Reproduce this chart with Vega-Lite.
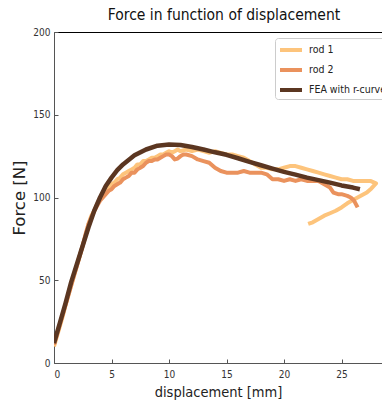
{
  "$schema": "https://vega.github.io/schema/vega-lite/v6.json",
  "autosize": {"type": "none"},
  "padding": {"left": 54, "top": 32, "right": 0, "bottom": 38},
  "width": 328,
  "height": 331,
  "background": "white",
  "title": {"text": "Force in function of displacement", "font": "DejaVu Sans Condensed", "fontSize": 15.5, "fontWeight": "normal", "color": "#111", "dx": 6, "offset": 4},
  "config": {
    "view": {"stroke": null},
    "axis": {"labelFont": "DejaVu Sans Condensed", "labelFontSize": 10, "labelColor": "#333", "titleFont": "DejaVu Sans Condensed", "titleFontSize": 14, "titleFontWeight": "normal", "titleColor": "#222", "grid": false, "domainColor": "#555", "tickColor": "#555"}
  },
  "data": {"values": [
    {"s":"rod 1","i":0,"x":0,"f":10},{"s":"rod 1","i":1,"x":0.25,"f":16},{"s":"rod 1","i":2,"x":0.5,"f":22},{"s":"rod 1","i":3,"x":0.75,"f":28},{"s":"rod 1","i":4,"x":1,"f":35},{"s":"rod 1","i":5,"x":1.25,"f":41},{"s":"rod 1","i":6,"x":1.5,"f":47},{"s":"rod 1","i":7,"x":1.75,"f":53},{"s":"rod 1","i":8,"x":2,"f":59},{"s":"rod 1","i":9,"x":2.25,"f":65},{"s":"rod 1","i":10,"x":2.5,"f":71},{"s":"rod 1","i":11,"x":2.75,"f":77},{"s":"rod 1","i":12,"x":3,"f":84},{"s":"rod 1","i":13,"x":3.25,"f":89},{"s":"rod 1","i":14,"x":3.5,"f":92},{"s":"rod 1","i":15,"x":3.75,"f":96},{"s":"rod 1","i":16,"x":4,"f":99},{"s":"rod 1","i":17,"x":4.25,"f":101},{"s":"rod 1","i":18,"x":4.5,"f":104},{"s":"rod 1","i":19,"x":4.75,"f":106},{"s":"rod 1","i":20,"x":5,"f":108},{"s":"rod 1","i":21,"x":5.25,"f":109},{"s":"rod 1","i":22,"x":5.5,"f":111},{"s":"rod 1","i":23,"x":5.75,"f":112},{"s":"rod 1","i":24,"x":6,"f":114},{"s":"rod 1","i":25,"x":6.25,"f":115},{"s":"rod 1","i":26,"x":6.5,"f":116},{"s":"rod 1","i":27,"x":6.75,"f":117},{"s":"rod 1","i":28,"x":7,"f":118},{"s":"rod 1","i":29,"x":7.25,"f":120},{"s":"rod 1","i":30,"x":7.5,"f":120},{"s":"rod 1","i":31,"x":7.75,"f":122},{"s":"rod 1","i":32,"x":8,"f":122},{"s":"rod 1","i":33,"x":8.25,"f":123},{"s":"rod 1","i":34,"x":8.5,"f":124},{"s":"rod 1","i":35,"x":8.75,"f":124},{"s":"rod 1","i":36,"x":9,"f":125},{"s":"rod 1","i":37,"x":9.25,"f":126},{"s":"rod 1","i":38,"x":9.5,"f":126},{"s":"rod 1","i":39,"x":9.75,"f":127},{"s":"rod 1","i":40,"x":10,"f":128},{"s":"rod 1","i":41,"x":10.25,"f":127},{"s":"rod 1","i":42,"x":10.5,"f":128},{"s":"rod 1","i":43,"x":10.75,"f":129},{"s":"rod 1","i":44,"x":11,"f":128},{"s":"rod 1","i":45,"x":11.5,"f":129},{"s":"rod 1","i":46,"x":12,"f":128},{"s":"rod 1","i":47,"x":12.5,"f":129},{"s":"rod 1","i":48,"x":13,"f":128},{"s":"rod 1","i":49,"x":13.5,"f":127},{"s":"rod 1","i":50,"x":14,"f":128},{"s":"rod 1","i":51,"x":14.5,"f":127},{"s":"rod 1","i":52,"x":15,"f":126},{"s":"rod 1","i":53,"x":15.5,"f":126},{"s":"rod 1","i":54,"x":16,"f":125},{"s":"rod 1","i":55,"x":16.5,"f":124},{"s":"rod 1","i":56,"x":17,"f":122},{"s":"rod 1","i":57,"x":17.5,"f":120},{"s":"rod 1","i":58,"x":18,"f":118},{"s":"rod 1","i":59,"x":18.5,"f":118},{"s":"rod 1","i":60,"x":19,"f":117},{"s":"rod 1","i":61,"x":19.5,"f":117},{"s":"rod 1","i":62,"x":20,"f":118},{"s":"rod 1","i":63,"x":20.5,"f":119},{"s":"rod 1","i":64,"x":21,"f":119},{"s":"rod 1","i":65,"x":21.5,"f":118},{"s":"rod 1","i":66,"x":22,"f":117},{"s":"rod 1","i":67,"x":22.5,"f":116},{"s":"rod 1","i":68,"x":23,"f":115},{"s":"rod 1","i":69,"x":23.5,"f":114},{"s":"rod 1","i":70,"x":24,"f":113},{"s":"rod 1","i":71,"x":24.5,"f":112},{"s":"rod 1","i":72,"x":25,"f":111},{"s":"rod 1","i":73,"x":25.5,"f":111},{"s":"rod 1","i":74,"x":26,"f":110},{"s":"rod 1","i":75,"x":26.5,"f":110},{"s":"rod 1","i":76,"x":27,"f":110},{"s":"rod 1","i":77,"x":27.5,"f":110},{"s":"rod 1","i":78,"x":28,"f":108.5},{"s":"rod 1","i":79,"x":27.6,"f":105.5},{"s":"rod 1","i":80,"x":27.2,"f":103},{"s":"rod 1","i":81,"x":26.8,"f":101.5},{"s":"rod 1","i":82,"x":26.4,"f":100},{"s":"rod 1","i":83,"x":26,"f":98.5},{"s":"rod 1","i":84,"x":25.5,"f":96.5},{"s":"rod 1","i":85,"x":25,"f":94},{"s":"rod 1","i":86,"x":24.5,"f":92},{"s":"rod 1","i":87,"x":24,"f":90.5},{"s":"rod 1","i":88,"x":23.5,"f":89},{"s":"rod 1","i":89,"x":23,"f":87},{"s":"rod 1","i":90,"x":22.5,"f":85},{"s":"rod 1","i":91,"x":22.1,"f":84},
    {"s":"rod 2","i":0,"x":0,"f":11},{"s":"rod 2","i":1,"x":0.25,"f":17},{"s":"rod 2","i":2,"x":0.5,"f":23},{"s":"rod 2","i":3,"x":0.75,"f":29},{"s":"rod 2","i":4,"x":1,"f":35},{"s":"rod 2","i":5,"x":1.25,"f":41},{"s":"rod 2","i":6,"x":1.5,"f":47},{"s":"rod 2","i":7,"x":1.75,"f":53},{"s":"rod 2","i":8,"x":2,"f":59},{"s":"rod 2","i":9,"x":2.25,"f":65},{"s":"rod 2","i":10,"x":2.5,"f":71},{"s":"rod 2","i":11,"x":2.75,"f":78},{"s":"rod 2","i":12,"x":3,"f":84},{"s":"rod 2","i":13,"x":3.25,"f":88},{"s":"rod 2","i":14,"x":3.5,"f":92},{"s":"rod 2","i":15,"x":3.75,"f":95},{"s":"rod 2","i":16,"x":4,"f":98},{"s":"rod 2","i":17,"x":4.25,"f":100},{"s":"rod 2","i":18,"x":4.5,"f":102},{"s":"rod 2","i":19,"x":4.75,"f":104},{"s":"rod 2","i":20,"x":5,"f":105},{"s":"rod 2","i":21,"x":5.25,"f":107},{"s":"rod 2","i":22,"x":5.5,"f":108},{"s":"rod 2","i":23,"x":5.75,"f":109},{"s":"rod 2","i":24,"x":6,"f":111},{"s":"rod 2","i":25,"x":6.25,"f":112},{"s":"rod 2","i":26,"x":6.5,"f":113},{"s":"rod 2","i":27,"x":6.75,"f":115},{"s":"rod 2","i":28,"x":7,"f":115},{"s":"rod 2","i":29,"x":7.25,"f":117},{"s":"rod 2","i":30,"x":7.5,"f":118},{"s":"rod 2","i":31,"x":7.75,"f":119},{"s":"rod 2","i":32,"x":8,"f":121},{"s":"rod 2","i":33,"x":8.25,"f":122},{"s":"rod 2","i":34,"x":8.5,"f":122},{"s":"rod 2","i":35,"x":8.75,"f":123},{"s":"rod 2","i":36,"x":9,"f":123},{"s":"rod 2","i":37,"x":9.25,"f":124},{"s":"rod 2","i":38,"x":9.5,"f":125},{"s":"rod 2","i":39,"x":9.75,"f":126},{"s":"rod 2","i":40,"x":10,"f":126},{"s":"rod 2","i":41,"x":10.25,"f":125},{"s":"rod 2","i":42,"x":10.5,"f":123},{"s":"rod 2","i":43,"x":10.75,"f":123.5},{"s":"rod 2","i":44,"x":11,"f":125},{"s":"rod 2","i":45,"x":11.25,"f":126},{"s":"rod 2","i":46,"x":11.5,"f":126},{"s":"rod 2","i":47,"x":12,"f":125},{"s":"rod 2","i":48,"x":12.5,"f":123},{"s":"rod 2","i":49,"x":13,"f":122},{"s":"rod 2","i":50,"x":13.5,"f":121},{"s":"rod 2","i":51,"x":14,"f":118},{"s":"rod 2","i":52,"x":14.5,"f":116},{"s":"rod 2","i":53,"x":15,"f":115},{"s":"rod 2","i":54,"x":15.5,"f":115},{"s":"rod 2","i":55,"x":16,"f":115},{"s":"rod 2","i":56,"x":16.5,"f":116},{"s":"rod 2","i":57,"x":17,"f":115},{"s":"rod 2","i":58,"x":17.5,"f":115},{"s":"rod 2","i":59,"x":18,"f":115},{"s":"rod 2","i":60,"x":18.5,"f":114},{"s":"rod 2","i":61,"x":19,"f":111},{"s":"rod 2","i":62,"x":19.5,"f":111},{"s":"rod 2","i":63,"x":20,"f":110},{"s":"rod 2","i":64,"x":20.5,"f":111},{"s":"rod 2","i":65,"x":21,"f":110},{"s":"rod 2","i":66,"x":21.5,"f":111},{"s":"rod 2","i":67,"x":22,"f":110},{"s":"rod 2","i":68,"x":22.5,"f":110},{"s":"rod 2","i":69,"x":23,"f":110},{"s":"rod 2","i":70,"x":23.5,"f":108},{"s":"rod 2","i":71,"x":24,"f":106},{"s":"rod 2","i":72,"x":24.3,"f":103},{"s":"rod 2","i":73,"x":24.7,"f":102},{"s":"rod 2","i":74,"x":25,"f":102},{"s":"rod 2","i":75,"x":25.5,"f":101},{"s":"rod 2","i":76,"x":25.8,"f":100},{"s":"rod 2","i":77,"x":26.1,"f":98},{"s":"rod 2","i":78,"x":26.4,"f":94},
    {"s":"FEA with r-curve","i":0,"x":0,"f":12},{"s":"FEA with r-curve","i":1,"x":0.5,"f":24},{"s":"FEA with r-curve","i":2,"x":1,"f":36},{"s":"FEA with r-curve","i":3,"x":1.5,"f":49},{"s":"FEA with r-curve","i":4,"x":2,"f":60},{"s":"FEA with r-curve","i":5,"x":2.5,"f":71},{"s":"FEA with r-curve","i":6,"x":3,"f":82},{"s":"FEA with r-curve","i":7,"x":3.5,"f":92},{"s":"FEA with r-curve","i":8,"x":4,"f":100},{"s":"FEA with r-curve","i":9,"x":4.5,"f":107},{"s":"FEA with r-curve","i":10,"x":5,"f":112},{"s":"FEA with r-curve","i":11,"x":5.5,"f":116.5},{"s":"FEA with r-curve","i":12,"x":6,"f":120},{"s":"FEA with r-curve","i":13,"x":7,"f":125.5},{"s":"FEA with r-curve","i":14,"x":8,"f":129},{"s":"FEA with r-curve","i":15,"x":9,"f":131.3},{"s":"FEA with r-curve","i":16,"x":10,"f":132},{"s":"FEA with r-curve","i":17,"x":11,"f":131.7},{"s":"FEA with r-curve","i":18,"x":12,"f":130.5},{"s":"FEA with r-curve","i":19,"x":13,"f":129},{"s":"FEA with r-curve","i":20,"x":14,"f":127.3},{"s":"FEA with r-curve","i":21,"x":15,"f":125.8},{"s":"FEA with r-curve","i":22,"x":16,"f":123.7},{"s":"FEA with r-curve","i":23,"x":17,"f":121.5},{"s":"FEA with r-curve","i":24,"x":18,"f":119.5},{"s":"FEA with r-curve","i":25,"x":19,"f":117.5},{"s":"FEA with r-curve","i":26,"x":20,"f":115.5},{"s":"FEA with r-curve","i":27,"x":21,"f":113.8},{"s":"FEA with r-curve","i":28,"x":22,"f":112},{"s":"FEA with r-curve","i":29,"x":23,"f":110.5},{"s":"FEA with r-curve","i":30,"x":24,"f":109},{"s":"FEA with r-curve","i":31,"x":25,"f":107.3},{"s":"FEA with r-curve","i":32,"x":26,"f":106},{"s":"FEA with r-curve","i":33,"x":26.6,"f":105}
  ]},
  "encoding": {
    "x": {"field": "x", "type": "quantitative", "scale": {"domain": [0, 28.52], "nice": false, "zero": false}},
    "y": {"field": "f", "type": "quantitative", "scale": {"domain": [0, 200], "nice": false}},
    "order": {"field": "i", "type": "quantitative"},
    "color": {"field": "s", "type": "nominal", "scale": {"domain": ["rod 1", "rod 2", "FEA with r-curve"], "range": ["#fdc47c", "#ea925d", "#5b3621"]},
      "legend": {"title": null, "orient": "none", "legendX": 221, "legendY": 6, "fillColor": "white", "strokeColor": "#ccc", "cornerRadius": 3, "padding": 1, "symbolType": "M-0.78,0H1.67", "symbolStrokeWidth": 4, "symbolSize": 324, "labelFont": "DejaVu Sans Condensed", "labelFontSize": 10.5, "labelColor": "#222", "rowPadding": 1, "labelOffset": 11}}
  },
  "resolve": {"axis": {"x": "independent"}},
  "layer": [
    {
      "transform": [{"filter": "datum.s !== 'FEA with r-curve'"}],
      "mark": {"type": "line", "strokeWidth": 4, "strokeJoin": "round", "clip": true},
      "encoding": {
        "x": {"field": "x", "type": "quantitative", "title": "displacement [mm]", "axis": {"values": [0, 5, 10, 15, 20, 25], "tickSize": -4, "labelPadding": 10, "titlePadding": 6, "titleFontSize": 14.5}},
        "y": {"field": "f", "type": "quantitative", "title": "Force [N]", "axis": {"values": [0, 50, 100, 150, 200], "tickSize": -4, "labelPadding": 8, "titlePadding": 5, "titleFont": "DejaVu Sans", "titleFontSize": 16.5}}
      }
    },
    {
      "transform": [{"filter": "datum.s === 'FEA with r-curve'"}],
      "mark": {"type": "line", "strokeWidth": 4.5, "strokeJoin": "round", "clip": true},
      "encoding": {
        "x": {"field": "x", "type": "quantitative", "axis": {"orient": "top", "labels": false, "ticks": false, "title": null, "domainColor": "black"}}
      }
    }
  ]
}
